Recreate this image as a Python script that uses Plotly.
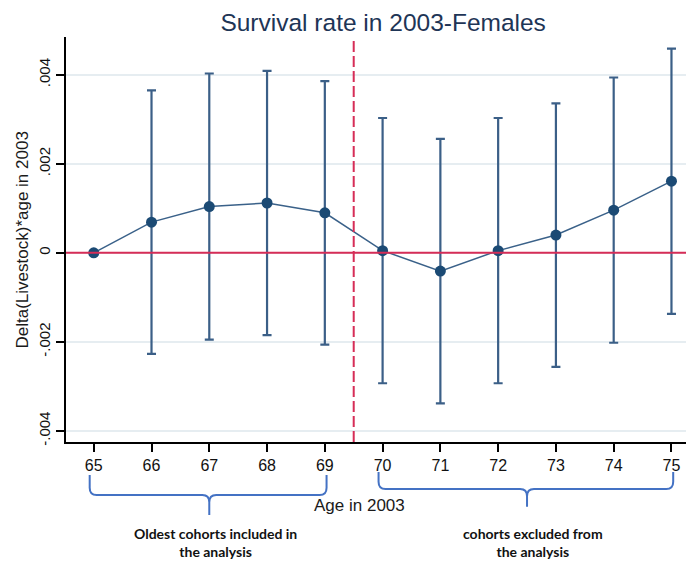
import plotly.graph_objects as go

# ---- data ----
ages = [65, 66, 67, 68, 69, 70, 71, 72, 73, 74, 75]
coef = [0.0, 0.00069, 0.00104, 0.00112, 0.00090, 0.00005, -0.00041, 0.00005, 0.00040, 0.00096, 0.00161]
ci_half = [0.0, 0.00296, 0.00299, 0.00297, 0.00296, 0.00298, 0.00297, 0.00298, 0.00296, 0.00298, 0.00298]
y_tick_vals = [-0.004, -0.002, 0, 0.002, 0.004]
y_tick_text = ["-.004", "-.002", "0", ".002", ".004"]
cutoff_age = 69.5
groups = [
    {"start": 65, "end": 69, "label": "Oldest cohorts included in<br>the analysis"},
    {"start": 70, "end": 75, "label": "cohorts excluded from<br>the analysis"},
]

FONT = "Liberation Sans"
RED = "#d62d57"
BRACE = "#4472c4"

fig = go.Figure()
fig.add_trace(go.Scatter(
    x=ages, y=coef, mode="lines+markers",
    line=dict(color="#3a6189", width=1.5),
    marker=dict(size=11, color="#1b4a74"),
    error_y=dict(type="data", array=ci_half, symmetric=True,
                 color="#3b5f87", thickness=2.2, width=4.5),
    showlegend=False,
))

shapes = [
    dict(type="line", xref="paper", yref="y", x0=0, x1=1, y0=0, y1=0,
         line=dict(color=RED, width=2)),
    dict(type="line", xref="x", yref="paper", x0=cutoff_age, x1=cutoff_age, y0=0, y1=1,
         line=dict(color=RED, width=2, dash="11px,4px")),
]

annotations = []
# braces under groups (paper y coordinates below the plot, x in data units)
brace_geom = [(-0.0815, -0.131, -0.180), (-0.074, -0.116, -0.160)]
r = 0.12
for g, (yt, ym, yb) in zip(groups, brace_geom):
    x0 = g["start"] - 0.07
    x1 = g["end"] + 0.03
    xc = (g["start"] + g["end"]) / 2
    dy = 0.018
    path = (f"M {x0},{yt} L {x0},{ym + dy} Q {x0},{ym} {x0 + r},{ym} "
            f"L {xc - r},{ym} Q {xc},{ym} {xc},{ym - dy} L {xc},{yb} "
            f"M {xc},{ym - dy} Q {xc},{ym} {xc + r},{ym} "
            f"L {x1 - r},{ym} Q {x1},{ym} {x1},{ym + dy} L {x1},{yt}")
    shapes.append(dict(type="path", xref="x", yref="paper", path=path,
                       line=dict(color=BRACE, width=2)))
    annotations.append(dict(x=xc + 0.1, y=-0.249, xref="x", yref="paper",
                            text=g["label"], showarrow=False,
                            font=dict(family="Lato", size=14, color="#111111", weight="bold"),
                            align="center", xanchor="center", yanchor="middle"))

annotations.append(dict(x=0.4666, y=-0.1556, xref="paper", yref="paper",
                        text="Age in 2003", showarrow=False,
                        font=dict(family=FONT, size=17, color="#1a1a1a"),
                        xanchor="center", yanchor="middle"))
annotations.append(dict(x=-0.0685, y=0.5, xref="paper", yref="paper",
                        text="Delta(Livestock)*age in 2003", showarrow=False, textangle=-90,
                        font=dict(family=FONT, size=17, color="#1a1a1a"),
                        xanchor="center", yanchor="middle"))

# the page body has an 8px margin, so the figure is sized to fit the window
fig.update_layout(
    width=686, height=557,
    margin=dict(l=58, r=0, t=29, b=123),
    paper_bgcolor="white", plot_bgcolor="white",
    title=dict(text="Survival rate in 2003-Females", x=0.505, xref="paper",
               y=1 - 14 / 557, yref="container", xanchor="center", yanchor="middle",
               font=dict(family=FONT, size=24.5, color="#1e3556")),
    shapes=shapes, annotations=annotations,
    xaxis=dict(range=[64.52, 75.39], tickmode="array", tickvals=ages,
               ticks="outside", ticklen=8, tickwidth=1.5, tickcolor="black",
               showline=True, linecolor="black", linewidth=1.5,
               showgrid=False, zeroline=False,
               tickfont=dict(family=FONT, size=16, color="#111111")),
    yaxis=dict(range=[-0.00425, 0.00485], tickmode="array", tickvals=y_tick_vals,
               ticktext=y_tick_text, tickangle=-90,
               ticks="outside", ticklen=8, tickwidth=1.5, tickcolor="black",
               showline=True, linecolor="black", linewidth=1.5,
               showgrid=True, gridcolor="#e6edf1", gridwidth=1.5, zeroline=False,
               tickfont=dict(family=FONT, size=15, color="#111111")),
)

fig.write_html("out.html")
